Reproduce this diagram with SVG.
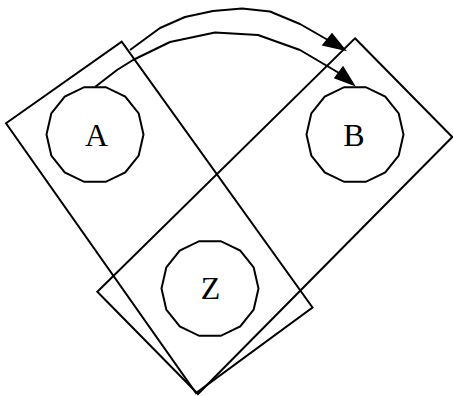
<svg xmlns="http://www.w3.org/2000/svg" xmlns:xlink="http://www.w3.org/1999/xlink" width="453" height="396" viewBox="0 0 453 396">
<style>
.cl{fill:none;stroke:#000;stroke-width:2;stroke-linejoin:miter}
.nd{fill:none;stroke:#000;stroke-width:2}
.lb{font-family:"Liberation Serif","Times New Roman",serif;font-size:32px;fill:#000;text-anchor:middle}
.ed{fill:none;stroke:#000;stroke-width:2;stroke-linejoin:round}
.ah{fill:#000;stroke:#000;stroke-width:1.5;stroke-linejoin:miter}
</style>
<defs>
<polygon id="circ" points="48.5,0 43.7,21.04 30.24,37.92 10.79,47.28 -10.79,47.28 -30.24,37.92 -43.7,21.04 -48.5,0 -43.7,-21.04 -30.24,-37.92 -10.79,-47.28 10.79,-47.28 30.24,-37.92 43.7,-21.04"/>
</defs>
<rect width="453" height="396" fill="#fff"/>
<g id="clusters">
<polygon id="cluster_AZ" class="cl" points="6,123.3 121.7,41.7 312.5,307.5 196,393"/>
<polygon id="cluster_BZ" class="cl" points="355,38.3 452.3,137 198,394 97.3,291.7"/>
</g>
<g id="node_A">
<use xlink:href="#circ" class="nd" transform="translate(95,134.5)"/>
<text class="lb" x="96.5" y="145.5">A</text>
</g>
<g id="node_B">
<use xlink:href="#circ" class="nd" transform="translate(355,134.5)"/>
<text class="lb" x="354" y="145.5">B</text>
</g>
<g id="node_Z">
<use xlink:href="#circ" class="nd" transform="translate(210,288.5)"/>
<text class="lb" x="210.5" y="299">Z</text>
</g>
<g id="connectors">
<polyline class="ed" points="130,50 160,28 185,17 213,11 242,8.5 270,11.5 300,24 327,39.5"/>
<polygon class="ah" points="345,50 323,45 332,34"/>
<polyline class="ed" points="95,87 117,70 133,60 170,42 215,32.5 258,35 300,50 339,73"/>
<polygon class="ah" points="354,85 335,78 343,67"/>
</g>
</svg>
